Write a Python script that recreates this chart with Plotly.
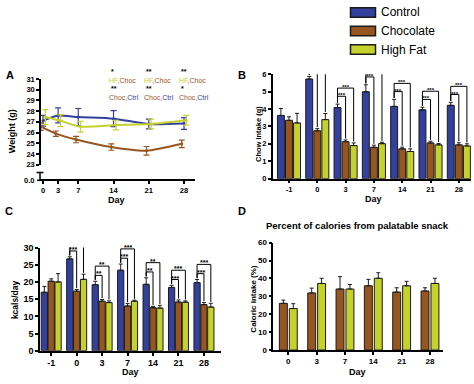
import plotly.graph_objects as go

W, H = 474, 384
def px(x): return x / W
def py(y): return 1 - y / H

CTRL = "#34419c"
CHOC = "#97561f"
HF = "#c6d22c"
EDGE = "#1b1b1b"
FONT = "Liberation Sans, Arial, sans-serif"

# ---------------- Panel A: body weight ----------------
days_a = [0, 3, 7, 14, 21, 28]
weight_ctrl = [27.1, 27.6, 27.45, 27.3, 26.8, 26.85]
weight_ctrl_err = [0.5, 0.7, 0.8, 0.75, 0.45, 0.55]
weight_choc = [26.55, 25.9, 25.35, 24.65, 24.3, 24.95]
weight_choc_err = [0.35, 0.25, 0.3, 0.3, 0.4, 0.35]
weight_hf = [27.45, 27.1, 26.55, 26.7, 26.8, 27.15]
weight_hf_err = [0.7, 0.55, 0.5, 0.45, 0.45, 0.45]
weight_ticks = [23, 24, 25, 26, 27, 28, 29, 30, 31]
sig_days = [14, 21, 28]
sig_hf_choc = ["*", "**", "**"]
sig_choc_ctrl = ["**", "**", "*"]

# ---------------- Panel B: chow intake ----------------
day_cats = ["-1", "0", "3", "7", "14", "21", "28"]
chow_ctrl = [3.63, 5.72, 4.08, 4.99, 4.15, 3.95, 4.21]
chow_ctrl_err = [0.4, 0.15, 0.2, 0.4, 0.4, 0.15, 0.17]
chow_choc = [3.35, 2.75, 2.12, 1.8, 1.71, 2.05, 1.94]
chow_choc_err = [0.2, 0.12, 0.1, 0.12, 0.1, 0.1, 0.12]
chow_hf = [3.2, 3.39, 1.9, 2.01, 1.56, 1.94, 1.88]
chow_hf_err = [0.55, 0.35, 0.15, 0.08, 0.15, 0.08, 0.12]
chow_sig_choc = ["", "***", "***", "***", "***", "***", "***"]
chow_sig_hf = ["", "***", "***", "***", "***", "***", "***"]

# ---------------- Panel C: kcal/day ----------------
kcal_ctrl = [17.0, 26.7, 19.2, 23.4, 19.3, 18.4, 19.8]
kcal_ctrl_err = [1.7, 0.6, 1.0, 1.8, 1.9, 0.6, 0.9]
kcal_choc = [20.2, 17.3, 14.4, 13.0, 12.5, 14.15, 13.4]
kcal_choc_err = [0.7, 0.5, 0.5, 0.7, 0.4, 0.6, 0.6]
kcal_hf = [20.0, 20.75, 14.0, 14.4, 12.4, 14.1, 12.7]
kcal_hf_err = [2.4, 1.5, 0.5, 0.3, 0.8, 0.4, 1.1]
kcal_sig_choc = ["", "***", "**", "***", "**", "***", "***"]
kcal_sig_hf = ["", "**", "**", "***", "**", "***", "***"]

# ---------------- Panel D: % calories from snack ----------------
snack_cats = ["0", "3", "7", "14", "21", "28"]
snack_choc = [26.1, 31.9, 34.1, 35.9, 32.4, 33.0]
snack_choc_err = [1.8, 2.7, 6.9, 3.6, 2.4, 1.8]
snack_hf = [23.2, 37.2, 34.1, 40.1, 35.9, 37.2]
snack_hf_err = [2.7, 2.9, 2.5, 3.1, 2.5, 2.9]

group_names = ["Control", "Chocolate", "High Fat"]
group_colors = [CTRL, CHOC, HF]

fig = go.Figure()

# ---- Panel A traces ----
a_offsets = [0.0, -0.45, 0.45]
for name, col, vals, errs, off in zip(group_names, group_colors,
                                      [weight_ctrl, weight_choc, weight_hf],
                                      [weight_ctrl_err, weight_choc_err, weight_hf_err],
                                      a_offsets):
    fig.add_trace(go.Scatter(
        x=[d + off for d in days_a], y=vals, mode="lines+markers",
        line=dict(color=col, width=2, shape="spline", smoothing=0.6),
        marker=dict(color=col, size=3),
        error_y=dict(type="data", array=errs, color=col, thickness=1.2, width=3),
        xaxis="x", yaxis="y", showlegend=False, cliponaxis=False, name=name))

# ---- bar panels ----
def add_bars(xa, ya, cats, series, errs, names, colors, width, step):
    n = len(series)
    pos = list(range(len(cats)))
    for k, (vals, e, nm, col) in enumerate(zip(series, errs, names, colors)):
        center = (k - (n - 1) / 2) * step
        fig.add_trace(go.Bar(
            x=pos, y=vals, width=width, offset=center - width / 2,
            marker=dict(color=col, line=dict(color=EDGE, width=1)),
            error_y=dict(type="data", symmetric=False, array=e,
                         arrayminus=[0] * len(e), color=EDGE, thickness=1, width=2),
            xaxis=xa, yaxis=ya, showlegend=False, name=nm))

def add_brackets(xa, ya, ctrl, ctrl_e, choc, choc_e, hf, hf_e, sig1, sig2,
                 step, pad, dh, gap, fsize):
    xs, ys = [], []
    for i in range(len(ctrl)):
        if not sig1[i]:
            continue
        xc, xb, xh = i - step, i, i + step
        tc = ctrl[i] + ctrl_e[i] + gap
        tb = choc[i] + choc_e[i] + gap
        th = hf[i] + hf_e[i] + gap
        h1 = ctrl[i] + ctrl_e[i] + pad
        h2 = h1 + dh
        xs += [xc, xc, xb, xb, None, xc, xc, xh, xh, None]
        ys += [tc, h1, h1, tb, None, tc, h2, h2, th, None]
        for xm, hh, s in [((xc + xb) / 2, h1, sig1[i]), ((xc + xh) / 2, h2, sig2[i])]:
            fig.add_annotation(x=xm, y=hh, xref=xa, yref=ya, text=s, showarrow=False,
                               yanchor="bottom", yshift=-3, borderpad=0,
                               font=dict(size=fsize, color="black", family=FONT, weight="bold"))
    fig.add_trace(go.Scatter(x=xs, y=ys, mode="lines", line=dict(color="black", width=1),
                             xaxis=xa, yaxis=ya, showlegend=False, cliponaxis=False,
                             hoverinfo="skip"))

B_STEP, B_W = 0.285, 0.245
add_bars("x2", "y2", day_cats, [chow_ctrl, chow_choc, chow_hf],
         [chow_ctrl_err, chow_choc_err, chow_hf_err], group_names, group_colors, B_W, B_STEP)
add_brackets("x2", "y2", chow_ctrl, chow_ctrl_err, chow_choc, chow_choc_err, chow_hf, chow_hf_err,
             chow_sig_choc, chow_sig_hf, B_STEP, 0.45, 0.47, 0.08, 6)

C_STEP, C_W = 0.27, 0.245
add_bars("x3", "y3", day_cats, [kcal_ctrl, kcal_choc, kcal_hf],
         [kcal_ctrl_err, kcal_choc_err, kcal_hf_err], group_names, group_colors, C_W, C_STEP)
add_brackets("x3", "y3", kcal_ctrl, kcal_ctrl_err, kcal_choc, kcal_choc_err, kcal_hf, kcal_hf_err,
             kcal_sig_choc, kcal_sig_hf, C_STEP, 1.7, 2.7, 0.4, 7)

add_bars("x4", "y4", snack_cats, [snack_choc, snack_hf], [snack_choc_err, snack_hf_err],
         group_names[1:], group_colors[1:], 0.28, 0.35)

# ---- axes ----
tick_font = lambda s: dict(family=FONT, size=s, color="black", weight="bold")
common = dict(showline=True, linecolor="black", linewidth=1.5, ticks="outside",
              tickcolor="black", tickwidth=1.5, ticklen=3, showgrid=False, zeroline=False,
              fixedrange=True)

fig.update_layout(
    xaxis=dict(domain=[px(40), px(195)], range=[-0.6, 30.18], anchor="free", position=py(180),
               tickvals=days_a, tickfont=tick_font(7.5), **common),
    yaxis=dict(domain=[py(164), py(76)], range=[23, 31], anchor="free", position=px(40),
               tickvals=weight_ticks, tickfont=tick_font(7.5), **common),
    xaxis2=dict(domain=[px(272.7), px(471)], range=[-0.575, 6.43], anchor="y2",
                tickvals=list(range(len(day_cats))), ticktext=day_cats,
                tickfont=tick_font(7.5), **common),
    yaxis2=dict(domain=[py(178.3), py(71)], range=[0, 6], anchor="x2", dtick=1,
                tickfont=tick_font(7.5), **common),
    xaxis3=dict(domain=[px(40), px(221)], range=[-0.44, 6.67], anchor="y3",
                tickvals=list(range(len(day_cats))), ticktext=day_cats,
                tickfont=tick_font(9), **common),
    yaxis3=dict(domain=[py(355), py(249)], range=[0, 30], anchor="x3", dtick=5,
                tickfont=tick_font(9), **common),
    xaxis4=dict(domain=[px(273.3), px(443.3)], range=[-0.53, 5.47], anchor="y4",
                tickvals=list(range(len(snack_cats))), ticktext=snack_cats,
                tickfont=tick_font(8), **common),
    yaxis4=dict(domain=[py(354.3), py(244)], range=[0, 60], anchor="x4", dtick=10,
                tickfont=tick_font(8), **common),
    barmode="overlay",
    width=W, height=H, margin=dict(l=0, r=0, t=0, b=0),
    paper_bgcolor="white", plot_bgcolor="white",
    font=dict(family=FONT, color="black"),
)

# broken-axis segment in panel A
fig.add_shape(type="line", xref="paper", yref="paper", x0=px(40), x1=px(40), y0=py(172), y1=py(180),
              line=dict(color="black", width=1.5))
fig.add_shape(type="line", xref="paper", yref="paper", x0=px(36.5), x1=px(43.5), y0=py(172), y1=py(172),
              line=dict(color="black", width=1.5))
fig.add_shape(type="line", xref="paper", yref="paper", x0=px(37), x1=px(40), y0=py(180), y1=py(180),
              line=dict(color="black", width=1.5))
fig.add_annotation(x=px(36), y=py(180), xref="paper", yref="paper", text="0.0", showarrow=False,
                   xanchor="right", yanchor="middle", font=tick_font(7.5))

# significance labels in panel A (star line above the comparison text)
for d, s1, s2 in zip(sig_days, sig_hf_choc, sig_choc_ctrl):
    fig.add_annotation(
        x=d - 1.1, xref="x", y=py(73), yref="paper", showarrow=False,
        text=(f"<b><span style='color:black'>&nbsp;{s1}</span></b><br>"
              f"<span style='color:{HF}'>HF</span>,<span style='color:{CHOC}'>Choc</span>"),
        xanchor="left", yanchor="middle", align="left", borderpad=0,
        font=dict(family=FONT, size=7, color=CHOC))
    fig.add_annotation(
        x=d - 1.1, xref="x", y=py(90.5), yref="paper", showarrow=False,
        text=(f"<b><span style='color:black'>&nbsp;{s2}</span></b><br>"
              f"<span style='color:{CHOC}'>Choc</span>,<span style='color:{CTRL}'>Ctrl</span>"),
        xanchor="left", yanchor="middle", align="left", borderpad=0,
        font=dict(family=FONT, size=7, color=CHOC))

# axis titles
def label(x, y, text, size, angle=0, weight="bold"):
    fig.add_annotation(x=px(x), y=py(y), xref="paper", yref="paper", text=text, showarrow=False,
                       textangle=angle, xanchor="center", yanchor="middle",
                       font=dict(family=FONT, size=size, color="black", weight=weight))

label(12, 129.5, "Weight (g)", 9, -90)
label(116, 200, "Day", 9)
label(258.5, 133, "Chow intake (g)", 7.5, -90)
label(373, 199, "Day", 9)
label(15, 303, "kcals/day", 8.5, -90)
label(130, 377, "Day", 9)
label(253.5, 302, "Caloric intake (%)", 8, -90)
label(357, 377, "Day", 9)
label(357.5, 226, "Percent of calories from palatable snack", 9.5)

# panel letters
label(10, 72, "A", 11)
label(242, 72, "B", 11)
label(9, 211, "C", 11)
label(242, 211, "D", 11)

# legend
for k, (nm, col) in enumerate(zip(group_names, group_colors)):
    yc = 7.7 + 19 * k
    fig.add_shape(type="rect", xref="paper", yref="paper", x0=px(350.5), x1=px(375.5),
                  y0=py(yc + 4.8), y1=py(yc - 4.8), fillcolor=col,
                  line=dict(color=EDGE, width=1.5))
    fig.add_annotation(x=px(378.5), y=py(yc), xref="paper", yref="paper", text=nm,
                       showarrow=False, xanchor="left", yanchor="middle",
                       font=dict(family=FONT, size=12, color="black"))

fig.write_html("out.html", config={"displayModeBar": False},
               post_script="document.body.style.margin='0';")
